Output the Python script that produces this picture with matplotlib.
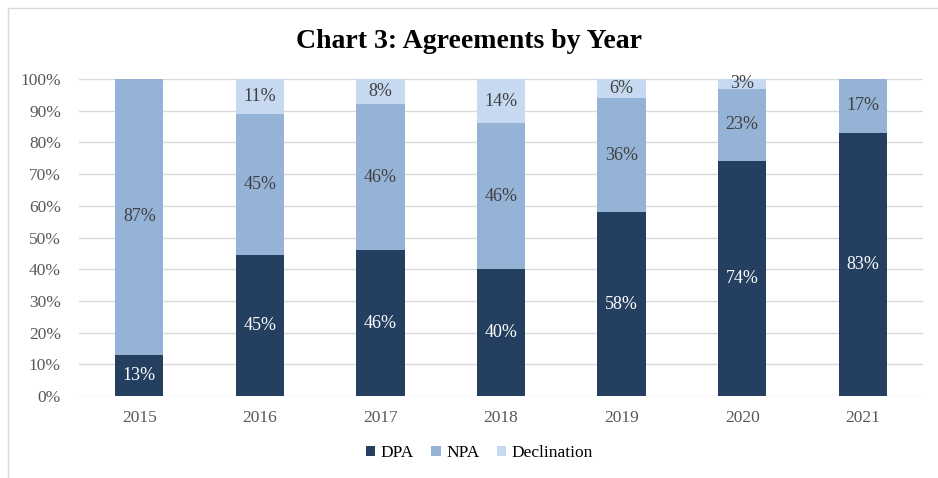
import matplotlib.pyplot as plt
import numpy as np
from matplotlib.patches import Rectangle

years = ['2015', '2016', '2017', '2018', '2019', '2020', '2021']
dpa = [13, 44.5, 46, 40, 58, 74, 83]
npa = [87, 44.5, 46, 46, 36, 23, 17]
declination = [0, 11, 8, 14, 6, 3, 0]

series = [('DPA', dpa, '#243F60', 'white'),
          ('NPA', npa, '#95B3D7', '#404040'),
          ('Declination', declination, '#C6D9F0', '#404040')]

plt.rcParams['font.family'] = ['Liberation Serif', 'DejaVu Serif']

fig = plt.figure(figsize=(9.38, 4.78), dpi=100)
ax = fig.add_axes([79 / 938, 1 - 396 / 478, 844 / 938, 317 / 478])

x = np.arange(len(years))
bottom = np.zeros(len(years))
for name, vals, color, tcolor in series:
    vals = np.array(vals, dtype=float)
    ax.bar(x, vals, 0.4, bottom=bottom, color=color, label=name, zorder=2)
    for xi, b, v in zip(x, bottom, vals):
        if v > 0:
            ax.text(xi, b + v / 2, f'{int(v + 0.5)}%', ha='center', va='center',
                    color=tcolor, fontsize=13, zorder=3)
    bottom += vals

ax.set_xlim(-0.5, len(years) - 0.5)
ax.set_ylim(0, 100)
ax.set_yticks(range(0, 101, 10))
ax.set_yticklabels([f'{t}%' for t in range(0, 101, 10)])
ax.set_xticks(x)
ax.set_xticklabels(years)
ax.tick_params(length=0, labelsize=12.5, labelcolor='#595959')
ax.tick_params(axis='x', pad=10)
ax.tick_params(axis='y', pad=13)
ax.grid(axis='y', color='#D9D9D9', linewidth=1, zorder=0)
for s in ax.spines.values():
    s.set_visible(False)

fig.text(0.5, 1 - 42 / 478, 'Chart 3: Agreements by Year', ha='center',
         va='center', fontsize=20, fontweight='bold', color='black')

fig.legend(loc='center', bbox_to_anchor=(0.511, 1 - 453 / 478), ncol=3,
           frameon=False, fontsize=12.5, handlelength=0.55, handleheight=0.55,
           handletextpad=0.3, columnspacing=1.0)

fig.patches.append(Rectangle((8 / 938, -0.1), 1.0, 1.1 - 8 / 478,
                             transform=fig.transFigure, fill=False,
                             edgecolor='#D9D9D9', linewidth=1))

fig.savefig('out.png', dpi=100)
